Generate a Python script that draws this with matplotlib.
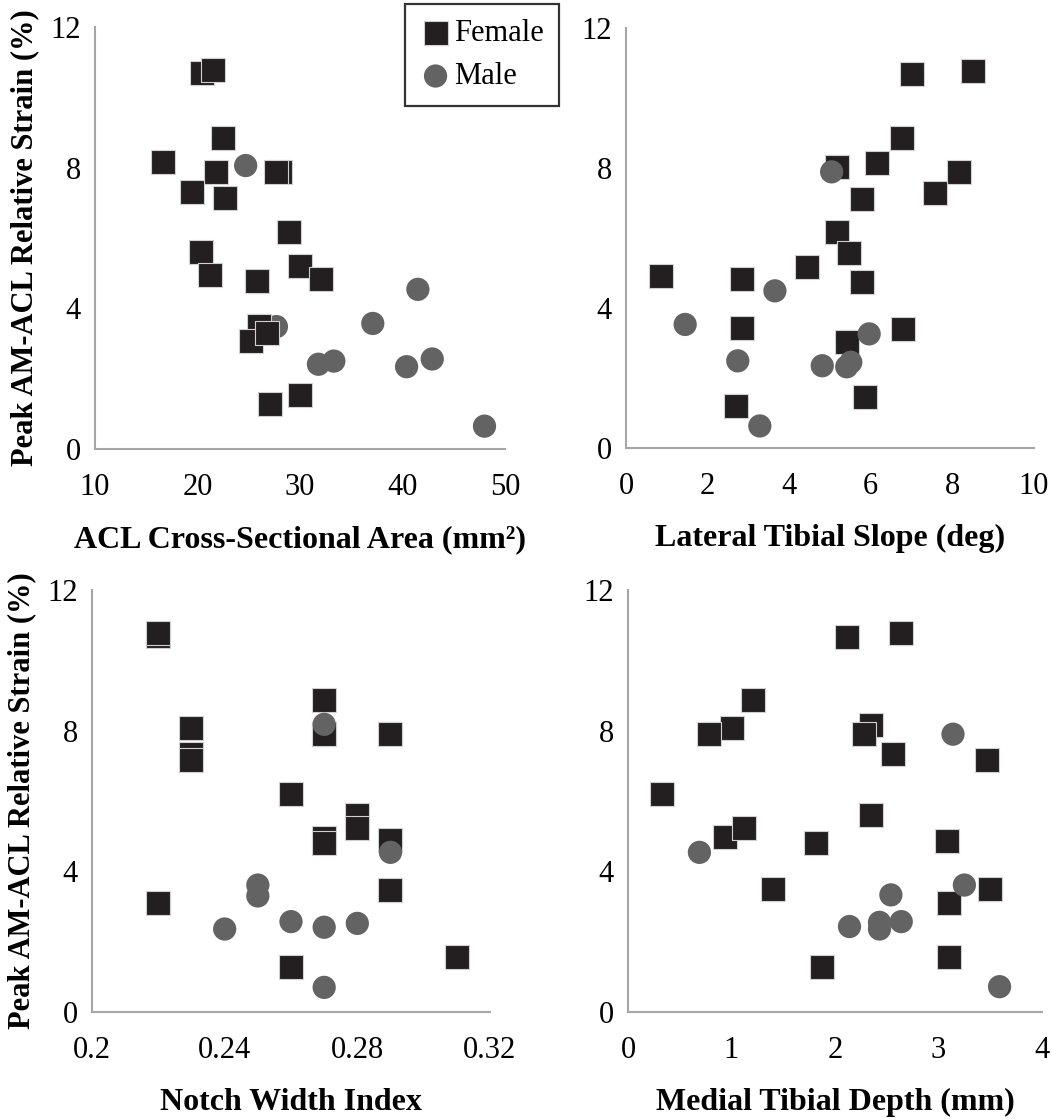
import matplotlib
matplotlib.use('Agg')
import matplotlib.pyplot as plt

plt.rcParams['font.family'] = ['Liberation Serif', 'DejaVu Serif']

# Strain values (%) and predictor values read per panel
# Panel 1: ACL cross-sectional area
csa_f = [20.4, 21.5, 22.5, 16.6, 21.8, 28.0, 27.7, 19.5, 22.7, 28.9,
         20.3, 30.0, 21.2, 25.8, 32.0, 26.0, 25.2, 26.8, 27.1, 30.0]
strain_f1 = [10.68, 10.78, 8.85, 8.16, 7.89, 7.89, 7.89, 7.32, 7.13, 6.18,
             5.61, 5.21, 4.95, 4.79, 4.83, 3.51, 3.08, 3.31, 1.28, 1.54]
csa_m = [24.7, 27.7, 41.5, 37.1, 31.8, 33.3, 40.4, 42.9, 48.0]
strain_m1 = [8.06, 3.48, 4.54, 3.57, 2.41, 2.50, 2.34, 2.56, 0.65]

# Panel 2: lateral tibial slope
lts_f = [7.02, 8.50, 6.76, 5.18, 5.18, 6.14, 8.17, 7.57, 5.78, 5.18,
         5.46, 4.43, 0.86, 2.84, 5.78, 2.84, 6.78, 5.41, 2.69, 5.87]
strain_f2 = [10.69, 10.78, 8.85, 8.04, 8.04, 8.15, 7.88, 7.28, 7.11, 6.16,
             5.58, 5.18, 4.92, 4.83, 4.75, 3.42, 3.40, 3.02, 1.21, 1.47]
lts_m = [5.04, 3.65, 1.45, 5.96, 2.74, 4.81, 5.41, 5.51, 3.28]
strain_m2 = [7.89, 4.49, 3.53, 3.26, 2.49, 2.35, 2.32, 2.45, 0.63]

# Panel 3: notch width index
nwi_f = [0.22, 0.22, 0.23, 0.23, 0.23, 0.27, 0.27, 0.27, 0.29, 0.26,
         0.28, 0.28, 0.27, 0.27, 0.29, 0.29, 0.29, 0.22, 0.26, 0.31]
strain_f3 = [10.70, 10.77, 8.07, 7.33, 7.17, 8.87, 7.91, 7.91, 7.90, 6.20,
             5.61, 5.24, 4.96, 4.81, 4.88, 3.47, 3.47, 3.11, 1.29, 1.55]
nwi_m = [0.27, 0.29, 0.25, 0.25, 0.24, 0.26, 0.27, 0.28, 0.27]
strain_m3 = [8.18, 4.54, 3.61, 3.30, 2.36, 2.57, 2.41, 2.52, 0.70]

# Panel 4: medial tibial depth
mtd_f = [2.12, 2.64, 1.21, 2.35, 2.28, 1.00, 0.78, 2.56, 3.47, 0.33,
         2.35, 0.94, 1.12, 1.82, 3.08, 1.40, 3.50, 3.10, 1.87, 3.10]
strain_f4 = [10.67, 10.79, 8.87, 8.16, 7.90, 8.07, 7.90, 7.33, 7.17, 6.20,
             5.60, 4.97, 5.22, 4.81, 4.86, 3.49, 3.49, 3.11, 1.27, 1.57]
mtd_m = [3.14, 0.69, 3.25, 2.54, 2.14, 2.43, 2.43, 2.64, 3.59]
strain_m4 = [7.90, 4.54, 3.61, 3.33, 2.43, 2.55, 2.36, 2.57, 0.72]

female_color = '#231f20'
male_color = '#636363'

W, H = 1057, 1120
fig = plt.figure(figsize=(W / 100, H / 100), dpi=100)


def make_axes(left, right, top, bottom):
    return fig.add_axes([left / W, 1 - bottom / H, (right - left) / W, (bottom - top) / H])


panels = [
    (make_axes(95, 505, 27, 449), csa_f, strain_f1, csa_m, strain_m1,
     (10, 50), [10, 20, 30, 40, 50], ['10', '20', '30', '40', '50'],
     'ACL Cross-Sectional Area (mm²)', True),
    (make_axes(626, 1034, 28, 448), lts_f, strain_f2, lts_m, strain_m2,
     (0, 10), [0, 2, 4, 6, 8, 10], ['0', '2', '4', '6', '8', '10'],
     'Lateral Tibial Slope (deg)', False),
    (make_axes(92, 490, 590, 1012), nwi_f, strain_f3, nwi_m, strain_m3,
     (0.2, 0.32), [0.2, 0.24, 0.28, 0.32], ['0.2', '0.24', '0.28', '0.32'],
     'Notch Width Index', True),
    (make_axes(628, 1042, 590, 1012), mtd_f, strain_f4, mtd_m, strain_m4,
     (0, 4), [0, 1, 2, 3, 4], ['0', '1', '2', '3', '4'],
     'Medial Tibial Depth (mm)', False),
]

handles = None
for i, (ax, xf, yf, xm, ym, xlim, xticks, xticklabels, xlabel, left_col) in enumerate(panels):
    # in the first panel the circles sit behind the squares
    zf, zm = (3, 2) if i == 0 else (2, 3)
    hf = ax.scatter(xf, yf, marker='s', s=300, c=female_color, edgecolors='#d0d0d0',
                    linewidths=0.8, zorder=zf, label='Female', clip_on=False)
    hm = ax.scatter(xm, ym, marker='o', s=280, c=male_color, edgecolors='none',
                    zorder=zm, label='Male', clip_on=False)
    if handles is None:
        handles = [hf, hm]
    ax.set_xlim(*xlim)
    ax.set_ylim(0, 12)
    ax.set_xticks(xticks)
    ax.set_xticklabels(xticklabels)
    ax.set_yticks([0, 4, 8, 12])
    ax.tick_params(length=0, labelsize=22, colors='black')
    ax.tick_params(axis='x', pad=17)
    ax.tick_params(axis='y', pad=10)
    for side in ['top', 'right']:
        ax.spines[side].set_visible(False)
    for side in ['left', 'bottom']:
        ax.spines[side].set_color('#a6a6a6')
        ax.spines[side].set_linewidth(1.5)
    ax.set_xlabel(xlabel, fontsize=23, fontweight='bold', labelpad=17)
    if left_col:
        ax.set_ylabel('Peak AM-ACL Relative Strain (%)', fontsize=22,
                      fontweight='bold', labelpad=8)

leg = fig.legend(handles, ['Female', 'Male'], loc='upper left',
                 bbox_to_anchor=(405 / W, 1 - 4 / H), fontsize=22,
                 frameon=True, fancybox=False, edgecolor='black',
                 borderaxespad=0, handletextpad=0.1, borderpad=0.5,
                 labelspacing=0.45, handlelength=1.0)
leg.get_frame().set_linewidth(1.6)

fig.savefig('out.png', dpi=100)
